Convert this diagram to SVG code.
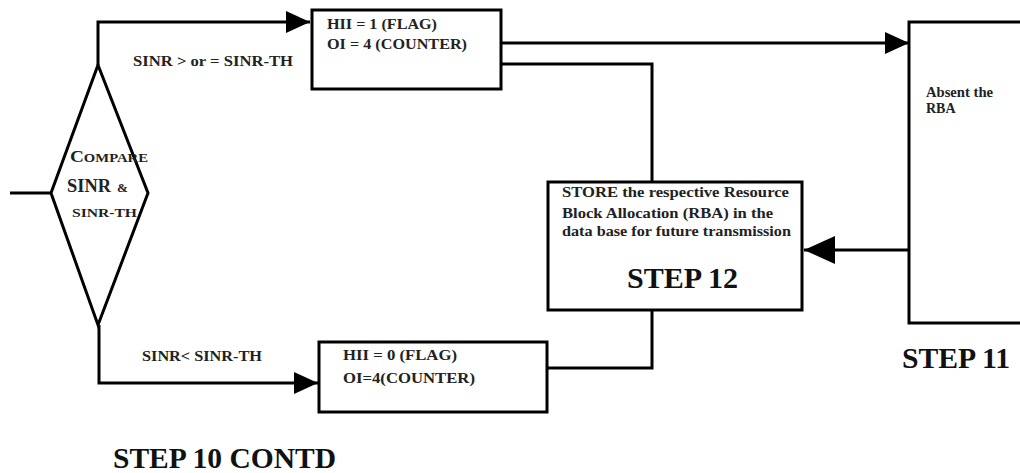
<svg xmlns="http://www.w3.org/2000/svg" width="1020" height="473" viewBox="0 0 1020 473">
<style>
.shape{fill:#fff;stroke:#000;stroke-width:3}
.line{fill:none;stroke:#000;stroke-width:3}
.t{font-family:"Liberation Serif",serif;font-weight:bold;fill:#222}
.s{font-size:15px}
.l{font-size:15px}
.big{font-size:30px;fill:#111}
</style>
<defs>
<marker id="ah" markerUnits="userSpaceOnUse" markerWidth="24" markerHeight="22" refX="24" refY="11" orient="auto">
<path d="M0,0 L24,11 L0,22 z" fill="#000"/>
</marker>
<marker id="ahl" markerUnits="userSpaceOnUse" markerWidth="31" markerHeight="28" refX="31" refY="14" orient="auto">
<path d="M0,0 L31,14 L0,28 z" fill="#000"/>
</marker>
</defs>
<rect width="1020" height="473" fill="#fff"/>
<g id="connectors">
<path class="line" d="M10,193 L51,193"/>
<path class="line" d="M98,65 L98,22 L310,22" marker-end="url(#ah)"/>
<path class="line" d="M99,325 L99,383 L318,383" marker-end="url(#ah)"/>
<path class="line" d="M501,43 L909,43" marker-end="url(#ah)"/>
<path class="line" d="M501,64 L652,64 L652,182"/>
<path class="line" d="M652,310 L652,368 L547,368"/>
<path class="line" d="M909,250 L804,250" marker-end="url(#ahl)"/>
</g>
<g id="compare">
<polygon class="shape" points="98,65 148,193 98,325 51,193"/>
<text class="t" x="70" y="162" font-size="17" textLength="78" lengthAdjust="spacingAndGlyphs">C<tspan font-size="13">OMPARE</tspan></text>
<text class="t" x="67" y="192" font-size="18" textLength="44" lengthAdjust="spacingAndGlyphs">SINR</text>
<text class="t" x="117" y="192" font-size="13">&amp;</text>
<text class="t" x="72" y="217" font-size="13" textLength="65" lengthAdjust="spacingAndGlyphs">SINR-TH</text>
</g>
<g id="label-ge">
<text class="t l" x="133" y="66" textLength="160" lengthAdjust="spacingAndGlyphs">SINR &gt; or = SINR-TH</text>
</g>
<g id="label-lt">
<text class="t l" x="142" y="361" textLength="120" lengthAdjust="spacingAndGlyphs">SINR&lt; SINR-TH</text>
</g>
<g id="hii1">
<rect class="shape" x="312" y="10" width="189" height="79"/>
<text class="t s" x="327" y="29" textLength="110" lengthAdjust="spacingAndGlyphs">HII = 1 (FLAG)</text>
<text class="t s" x="327" y="49" textLength="140" lengthAdjust="spacingAndGlyphs">OI = 4 (COUNTER)</text>
</g>
<g id="hii0">
<rect class="shape" x="319" y="342" width="228" height="70"/>
<text class="t s" x="343" y="360" textLength="114" lengthAdjust="spacingAndGlyphs">HII = 0 (FLAG)</text>
<text class="t s" x="343" y="383" textLength="132" lengthAdjust="spacingAndGlyphs">OI=4(COUNTER)</text>
</g>
<g id="step12">
<rect class="shape" x="548" y="182" width="254" height="128"/>
<text class="t s" x="562" y="197" textLength="227" lengthAdjust="spacingAndGlyphs">STORE the respective Resource</text>
<text class="t s" x="562" y="218" textLength="211" lengthAdjust="spacingAndGlyphs">Block Allocation (RBA) in the</text>
<text class="t s" x="562" y="236" textLength="229" lengthAdjust="spacingAndGlyphs">data base for future transmission</text>
<text class="t big" x="627" y="288" textLength="111" lengthAdjust="spacingAndGlyphs">STEP 12</text>
</g>
<g id="step11">
<rect class="shape" x="909" y="22" width="130" height="301"/>
<text class="t" x="926" y="97" font-size="14" textLength="67" lengthAdjust="spacingAndGlyphs">Absent the</text>
<text class="t" x="926" y="113" font-size="14">RBA</text>
<text class="t big" x="902" y="368" textLength="108" lengthAdjust="spacingAndGlyphs">STEP 11</text>
</g>
<g id="step10">
<text class="t big" x="113" y="468" textLength="223" lengthAdjust="spacingAndGlyphs">STEP 10 CONTD</text>
</g>
</svg>
